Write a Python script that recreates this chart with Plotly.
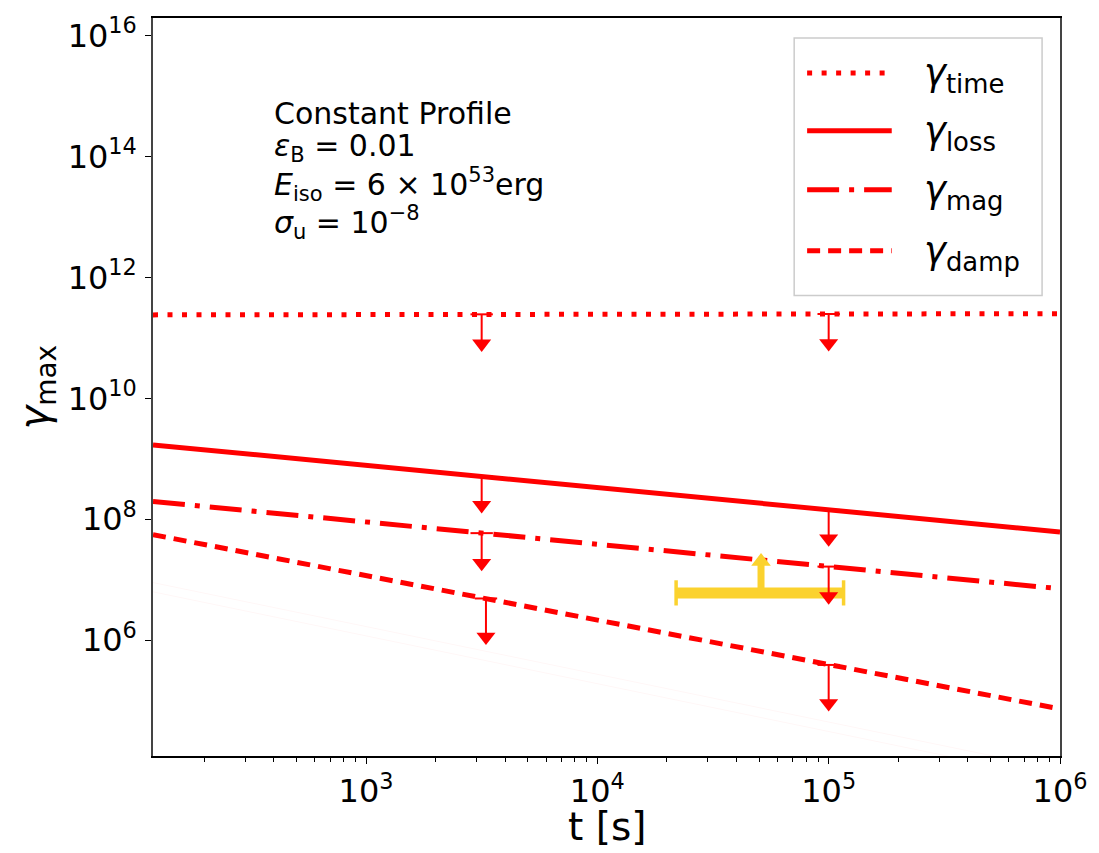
import numpy as np
import plotly.graph_objects as go

# ---- data -------------------------------------------------------------
# time grid [s]
t = [120, 1e3, 1e4, 1e5, 1e6]

# maximum Lorentz factor limits (constant density profile)
gamma_time = [2.40e11, 2.42e11, 2.45e11, 2.48e11, 2.51e11]
gamma_loss = [1.70e9, 7.8e8, 3.34e8, 1.44e8, 6.15e7]
gamma_mag = [1.97e8, 9.0e7, 3.87e7, 1.66e7, 7.1e6]
gamma_damp = [5.56e7, 1.17e7, 2.15e6, 3.96e5, 7.3e4]

# faint background curves
faint_a = [8.97e6, 1.68e6, 2.72e5, 4.4e4, 7.2e3]
faint_b = [6.31e6, 1.18e6, 1.91e5, 3.1e4, 5.0e3]

# upper-limit markers at two epochs
lim_t = [3162, 1e5]
lim_t_damp = [3300, 1e5]
lim_time = [2.45e11, 2.48e11]
lim_loss = [5.1e8, 1.43e8]
lim_mag = [5.9e7, 1.65e7]
lim_damp = [4.9e6, 3.9e5]

# observed lower limit with time span
obs_t = 5.1e4
obs_t_lo = 2.19e4
obs_t_hi = 1.16e5
obs_gamma = 6.06e6

# ---- layout geometry --------------------------------------------------
W, H = 1099, 853
L, R, T, B = 153, 1064, 17, 756
XR = [np.log10(120), 6.0]
YR = [4.085, 16.29]
DEC_PX = (B - T) / (YR[1] - YR[0])  # pixels per decade on y

RED = "#ff0000"
GOLD = "#fbd22e"
FONT = "DejaVu Sans"

DOT = "5px,9.5px"
DASHDOT = "32px,10px,5px,10px"
DASH = "13px,8px"


def px(xp):
    return (xp - L) / (R - L)


def py(yp):
    return (B - yp) / (B - T)


def shift(y, pixels):
    """Move a log-axis value up by a number of screen pixels."""
    return y * 10 ** (pixels / DEC_PX)


fig = go.Figure()

for ys in (faint_a, faint_b):
    fig.add_trace(go.Scatter(x=t, y=ys, mode="lines",
                             line=dict(color="rgba(255,0,0,0.035)", width=1),
                             showlegend=False, hoverinfo="skip"))

series = [
    (gamma_time, DOT),
    (gamma_loss, "solid"),
    (gamma_mag, DASHDOT),
    (gamma_damp, DASH),
]
for ys, dash in series:
    fig.add_trace(go.Scatter(x=t, y=ys, mode="lines",
                             line=dict(color=RED, width=5, dash=dash),
                             showlegend=False))

# observed lower limit: horizontal span with caps and an upward arrow
fig.add_trace(go.Scatter(x=[obs_t_lo, obs_t_hi], y=[obs_gamma, obs_gamma],
                         mode="lines", line=dict(color=GOLD, width=11),
                         showlegend=False))
fig.add_trace(go.Scatter(x=[obs_t_lo, obs_t_hi], y=[obs_gamma, obs_gamma],
                         mode="markers",
                         marker=dict(symbol="line-ns", size=18,
                                     line=dict(color=GOLD, width=3.5)),
                         showlegend=False))
up_len = 0.66  # decades
up_tip = obs_gamma * 10 ** up_len
fig.add_trace(go.Scatter(x=[obs_t, obs_t], y=[obs_gamma, shift(up_tip, -8)],
                         mode="lines", line=dict(color=GOLD, width=7),
                         showlegend=False))
fig.add_trace(go.Scatter(x=[obs_t], y=[shift(up_tip, -8.5)], mode="markers",
                         marker=dict(symbol="triangle-up", size=17, color=GOLD),
                         showlegend=False))

# downward arrows marking upper limits
arrow_sets = [
    (lim_t, lim_time, 0.62),
    (lim_t, lim_loss, 0.61),
    (lim_t, lim_mag, 0.63),
    (lim_t_damp, lim_damp, 0.77),
]
sx, sy, cx, cy, hx, hy = [], [], [], [], [], []
for xs, ys, ln in arrow_sets:
    for x, y in zip(xs, ys):
        tip = y / 10 ** ln
        sx += [x, x, None]
        sy += [y, shift(tip, 6), None]
        cx.append(x)
        cy.append(y)
        hx.append(x)
        hy.append(shift(tip, 8.2))
fig.add_trace(go.Scatter(x=sx, y=sy, mode="lines",
                         line=dict(color=RED, width=2), showlegend=False))
fig.add_trace(go.Scatter(x=cx, y=cy, mode="markers",
                         marker=dict(symbol="line-ew", size=16,
                                     line=dict(color=RED, width=2)),
                         showlegend=False))
fig.add_trace(go.Scatter(x=hx, y=hy, mode="markers",
                         marker=dict(symbol="triangle-down", size=16.5, color=RED),
                         showlegend=False))

# ---- legend (drawn by hand) ---------------------------------------------
shapes = [dict(type="rect", xref="paper", yref="paper",
               x0=px(797), x1=px(1046), y0=py(295), y1=py(37),
               line=dict(color="#cccccc", width=1.5),
               fillcolor="rgba(255,255,255,0.8)", layer="above")]
legend_items = [
    ("γ", "time", DOT, 72),
    ("γ", "loss", "solid", 130),
    ("γ", "mag", DASHDOT, 189),
    ("γ", "damp", DASH, 250),
]
annotations = []
for sym, sub, dash, yc in legend_items:
    shapes.append(dict(type="line", xref="paper", yref="paper",
                       x0=px(810), x1=px(895), y0=py(yc), y1=py(yc),
                       line=dict(color=RED, width=5, dash=dash), layer="above"))
    annotations.append(dict(xref="paper", yref="paper", x=px(925), y=py(yc + 2),
                            xanchor="left", yanchor="middle", showarrow=False,
                            text=f"<i>{sym}</i><sub>{sub}</sub>",
                            font=dict(family=FONT, size=37, color="black")))

# ---- parameter text block ----------------------------------------------
info_lines = [
    ("Constant Profile", 113),
    ("<i>ε</i><sub>B</sub> = 0.01", 147),
    ("<i>E</i><sub>iso</sub> = 6 × 10<sup>53</sup>erg", 184),
    ("<i>σ</i><sub>u</sub> = 10<sup>−8</sup>", 222),
]
for txt, yc in info_lines:
    annotations.append(dict(xref="paper", yref="paper", x=px(273), y=py(yc),
                            xanchor="left", yanchor="middle", showarrow=False,
                            text=txt, font=dict(family=FONT, size=30, color="black")))

# axis titles
annotations.append(dict(xref="paper", yref="paper", x=0.5, y=py(827),
                        xanchor="center", yanchor="middle", showarrow=False,
                        text="t [s]", font=dict(family=FONT, size=39, color="black")))
annotations.append(dict(xref="paper", yref="paper", x=px(36), y=0.5,
                        xanchor="center", yanchor="middle", showarrow=False,
                        textangle=-90, text="<i>γ</i><sub>max</sub>",
                        font=dict(family=FONT, size=40, color="black")))

x_major = [1e3, 1e4, 1e5, 1e6]
y_major = [1e6, 1e8, 1e10, 1e12, 1e14, 1e16]
x_minor = [m * 10 ** d for d in range(2, 6) for m in range(2, 10)]


def pow_label(v):
    return f"10<sup>{int(round(np.log10(v)))}</sup>"


fig.update_layout(
    width=W, height=H,
    margin=dict(l=L, r=W - R, t=T, b=H - B),
    paper_bgcolor="white", plot_bgcolor="white",
    showlegend=False,
    shapes=shapes, annotations=annotations,
    font=dict(family=FONT, color="black"),
    xaxis=dict(type="log", range=XR, showgrid=False, zeroline=False,
               showline=True, linecolor="black", linewidth=2, mirror=True,
               ticks="outside", ticklen=6, tickwidth=1.2, tickcolor="black",
               tickmode="array", tickvals=x_major,
               ticktext=[pow_label(v) for v in x_major],
               tickfont=dict(family=FONT, size=32, color="black"),
               minor=dict(tickmode="array", tickvals=x_minor, ticks="outside",
                          ticklen=3.5, tickwidth=1, tickcolor="black",
                          showgrid=False)),
    yaxis=dict(type="log", range=YR, showgrid=False, zeroline=False,
               showline=True, linecolor="#444444", linewidth=1.5, mirror=True,
               ticks="outside", ticklen=6, tickwidth=1.2, tickcolor="black",
               tickmode="array", tickvals=y_major,
               ticktext=[pow_label(v) for v in y_major],
               tickfont=dict(family=FONT, size=32, color="black"),
               ticklabelstandoff=2),
)

fig.write_html("out.html")
